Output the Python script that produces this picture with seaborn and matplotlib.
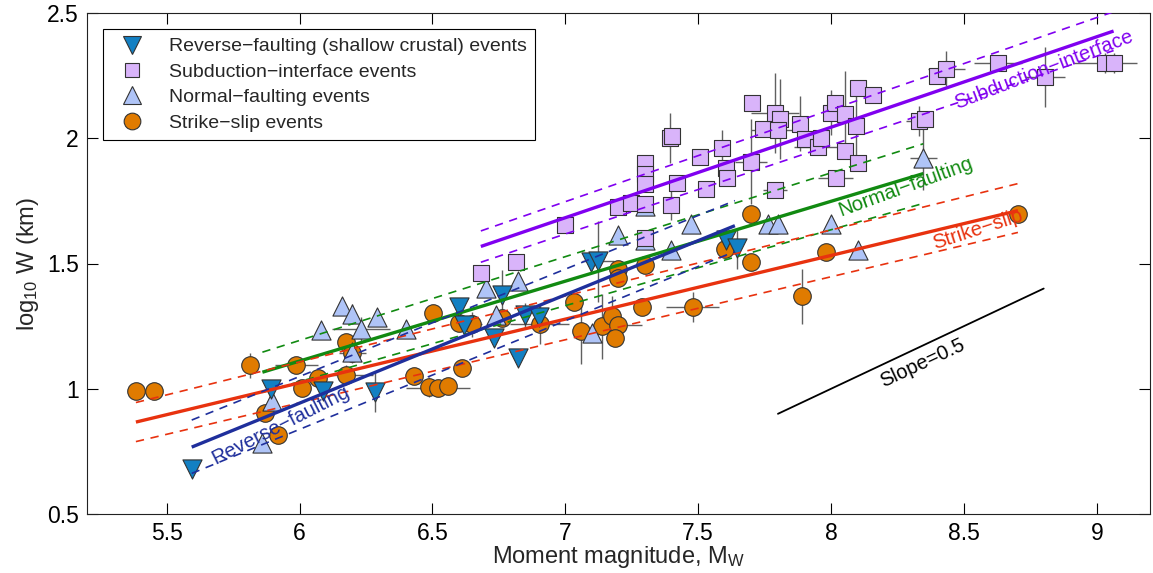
import numpy as np
import pandas as pd
import matplotlib
matplotlib.use("Agg")
import matplotlib.pyplot as plt
import seaborn as sns
from matplotlib.ticker import FuncFormatter
from matplotlib.lines import Line2D

# ---------------- data ----------------
ss_mw = [5.384, 5.451, 5.815, 5.871, 5.920, 5.988, 6.010, 6.070, 6.175, 6.198,
         6.175, 6.430, 6.501, 6.486, 6.520, 6.558, 6.610, 6.599, 6.648, 6.760,
         6.903, 7.034, 7.060, 7.139, 7.177, 7.199, 7.188, 7.199, 7.199, 7.300,
         7.289, 7.480, 7.600, 7.698, 7.698, 7.889, 7.979, 8.703]
ss_w = [0.990, 0.990, 1.094, 0.902, 0.815, 1.094, 1.002, 1.042, 1.185, 1.141,
        1.054, 1.050, 1.301, 1.006, 1.002, 1.010, 1.082, 1.261, 1.257, 1.281,
        1.257, 1.345, 1.229, 1.249, 1.289, 1.253, 1.201, 1.480, 1.444, 1.496,
        1.325, 1.325, 1.556, 1.699, 1.504, 1.369, 1.544, 1.699]
ss_xerr = [0, 0, 0, 0, 0, 0.08, 0, 0, 0, 0.05,
           0.10, 0, 0, 0, 0.12, 0, 0, 0, 0.04, 0,
           0.11, 0, 0, 0, 0, 0.09, 0, 0, 0, 0,
           0, 0.10, 0, 0, 0, 0, 0, 0]
ss_yerr = [0, 0, 0.05, 0, 0, 0, 0, 0.03, 0, 0.04,
           0.04, 0, 0, 0.04, 0, 0, 0, 0, 0.05, 0,
           0.08, 0, 0.13, 0.13, 0.08, 0, 0, 0, 0, 0,
           0, 0.06, 0, 0, 0, 0.11, 0, 0]

rv_mw = [5.594, 5.894, 6.089, 6.284, 6.599, 6.618, 6.730, 6.760, 6.820, 6.850,
         6.899, 7.098, 7.124, 7.604, 7.646]
rv_w = [0.679, 0.998, 0.990, 0.986, 1.325, 1.253, 1.201, 1.373, 1.122, 1.293,
        1.285, 1.504, 1.508, 1.592, 1.560]
rv_xerr = [0, 0, 0, 0, 0, 0, 0, 0, 0, 0, 0, 0, 0.06, 0, 0]
rv_yerr = [0, 0, 0, 0.08, 0, 0, 0, 0.10, 0, 0.05, 0.05, 0, 0.16, 0.05, 0.08]

nf_mw = [5.860, 5.898, 6.081, 6.160, 6.198, 6.231, 6.291, 6.198, 6.400, 6.700,
         6.738, 6.820, 7.102, 7.199, 7.300, 7.300, 7.398, 7.473, 7.762, 7.799,
         7.998, 8.103, 8.347]
nf_w = [0.783, 0.950, 1.233, 1.329, 1.297, 1.237, 1.285, 1.145, 1.237, 1.404,
        1.293, 1.432, 1.221, 1.612, 1.592, 1.731, 1.552, 1.659, 1.659, 1.659,
        1.659, 1.552, 1.922]
nf_xerr = [0, 0, 0, 0, 0, 0.11, 0, 0, 0, 0, 0, 0, 0, 0, 0, 0, 0, 0, 0, 0, 0, 0, 0.05]
nf_yerr = [0, 0, 0, 0, 0.04, 0.05, 0, 0, 0, 0, 0, 0, 0, 0, 0, 0, 0, 0, 0, 0, 0, 0, 0.13]

si_mw = [6.682, 6.813, 7.000, 7.199, 7.248, 7.300, 7.300, 7.300, 7.300, 7.300,
         7.398, 7.394, 7.402, 7.420, 7.507, 7.529, 7.589, 7.604, 7.608, 7.702,
         7.698, 7.743, 7.788, 7.807, 7.799, 7.788, 7.882, 7.901, 7.949, 7.961,
         7.998, 8.013, 8.054, 8.017, 8.054, 8.092, 8.103, 8.103, 8.159, 8.332,
         8.354, 8.399, 8.433, 8.628, 8.805, 9.030, 9.063]
si_w = [1.464, 1.504, 1.655, 1.727, 1.743, 1.739, 1.902, 1.859, 1.819, 1.600,
        1.735, 2.002, 2.010, 1.823, 1.926, 1.799, 1.962, 1.883, 1.843, 2.141,
        1.906, 2.038, 2.102, 2.078, 2.034, 1.795, 2.058, 1.998, 1.966, 2.002,
        2.102, 2.141, 2.098, 1.843, 1.950, 2.050, 2.201, 1.902, 2.173, 2.070,
        2.078, 2.249, 2.277, 2.301, 2.245, 2.301, 2.301]
si_xerr = [0, 0, 0, 0, 0, 0, 0, 0, 0, 0,
           0, 0, 0, 0, 0, 0, 0, 0, 0, 0,
           0.06, 0, 0.09, 0, 0.10, 0.045, 0, 0, 0.09, 0,
           0, 0, 0, 0.065, 0, 0, 0, 0, 0, 0.05,
           0, 0, 0.07, 0.09, 0.075, 0.12, 0]
si_yerr = [0, 0, 0, 0, 0, 0, 0, 0, 0, 0,
           0.06, 0.10, 0, 0, 0, 0, 0.07, 0, 0, 0,
           0.17, 0, 0.16, 0.16, 0, 0, 0.11, 0, 0, 0,
           0.09, 0, 0.17, 0, 0, 0.14, 0, 0, 0, 0.06,
           0, 0, 0.07, 0, 0.12, 0.04, 0.04]

# regression lines (end points)
fit_lines = {
    "Subduction": dict(x=[6.682, 9.063], y=[1.568, 2.428],
                       up=[1.630, 2.505], lo=[1.505, 2.350]),
    "Normal": dict(x=[5.860, 8.347], y=[1.066, 1.859],
                   up=[1.146, 1.978], lo=[0.986, 1.740]),
    "Strike": dict(x=[5.384, 8.703], y=[0.867, 1.711],
                   up=[0.945, 1.819], lo=[0.789, 1.624]),
    "Reverse": dict(x=[5.594, 7.638], y=[0.767, 1.651],
                    up=[0.875, 1.751], lo=[0.662, 1.548]),
}
slope_x = [7.80, 8.80]
slope_y = [0.90, 1.40]

# ---------------- style ----------------
sns.set_theme(style="ticks")
plt.rcParams["font.family"] = ["Liberation Sans", "DejaVu Sans"]
plt.rcParams["mathtext.fontset"] = "custom"
plt.rcParams["mathtext.rm"] = "Liberation Sans"
plt.rcParams["mathtext.it"] = "Liberation Sans"

c_rev = "#1380C3"
c_sub = "#D9B4FA"
c_nor = "#AFC4F7"
c_ss = "#E07B00"
l_sub = "#8000F0"
l_nor = "#118A11"
l_ss = "#E8320F"
l_rev = "#1F2F9C"

fig = plt.figure(figsize=(11.53, 5.73), dpi=100)
ax = fig.add_axes([87 / 1153, 59 / 573, 1063 / 1153, 501 / 573])

groups = [
    ("Strike-slip", ss_mw, ss_w, ss_xerr, ss_yerr, "o", c_ss, 160, 2),
    ("Normal", nf_mw, nf_w, nf_xerr, nf_yerr, "^", c_nor, 190, 3),
    ("Reverse", rv_mw, rv_w, rv_xerr, rv_yerr, "v", c_rev, 190, 4),
    ("Subduction", si_mw, si_w, si_xerr, si_yerr, "s", c_sub, 120, 5),
]

for name, xs, ys, xe, ye, mk, col, s, z in groups:
    xs_a, ys_a = np.array(xs), np.array(ys)
    xe_a, ye_a = np.array(xe), np.array(ye)
    m = (xe_a > 0) | (ye_a > 0)
    ax.errorbar(xs_a[m], ys_a[m], xerr=xe_a[m], yerr=ye_a[m], fmt="none",
                ecolor="#606060", elinewidth=1.0, capsize=0, zorder=1)

for name, xs, ys, xe, ye, mk, col, s, z in groups:
    df = pd.DataFrame({"Mw": xs, "logW": ys})
    sns.scatterplot(data=df, x="Mw", y="logW", marker=mk, color=col, s=s,
                    edgecolor="#333333", linewidth=0.8, ax=ax, zorder=z,
                    legend=False)

line_cols = {"Subduction": l_sub, "Normal": l_nor, "Strike": l_ss, "Reverse": l_rev}
for key, d in fit_lines.items():
    col = line_cols[key]
    ax.plot(d["x"], d["y"], color=col, lw=2.4, zorder=6, solid_capstyle="butt")
    ax.plot(d["x"], d["up"], color=col, lw=1.2, ls=(0, (5, 4)), zorder=6)
    ax.plot(d["x"], d["lo"], color=col, lw=1.2, ls=(0, (5, 4)), zorder=6)

ax.plot(slope_x, slope_y, color="black", lw=1.3, zorder=6)

lab_fs = 14.5
ax.text(8.80, 2.272, "Subduction\u2212interface", color=l_sub, fontsize=lab_fs,
        rotation=21, ha="center", va="center", zorder=7)
ax.text(8.28, 1.805, "Normal\u2212faulting", color=l_nor, fontsize=lab_fs,
        rotation=20, ha="center", va="center", zorder=7)
ax.text(8.553, 1.637, "Strike\u2212slip", color=l_ss, fontsize=lab_fs,
        rotation=18, ha="center", va="center", zorder=7)
ax.text(5.93, 0.855, "Reverse\u2212faulting", color=l_rev, fontsize=lab_fs,
        rotation=27, ha="center", va="center", zorder=7)
ax.text(8.345, 1.104, "Slope=0.5", color="black", fontsize=lab_fs,
        rotation=25, ha="center", va="center", zorder=7)

leg_items = [
    ("Reverse\u2212faulting (shallow crustal) events", "v", c_rev, 13),
    ("Subduction\u2212interface events", "s", c_sub, 10),
    ("Normal\u2212faulting events", "^", c_nor, 13),
    ("Strike\u2212slip events", "o", c_ss, 12),
]
hs = [Line2D([], [], ls="none", marker=m, markerfacecolor=c, markeredgecolor="#333333",
             markeredgewidth=0.8, markersize=ms) for _, m, c, ms in leg_items]
leg = ax.legend(hs, [t for t, *_ in leg_items], loc="upper left",
                bbox_to_anchor=(0.0155, 0.968), fontsize=14.0, frameon=True,
                fancybox=False, edgecolor="black", framealpha=1,
                labelspacing=0.4, handletextpad=0.9, borderpad=0.45,
                handlelength=2.0, borderaxespad=0)
leg.get_frame().set_linewidth(0.8)
leg.set_zorder(10)

ax.set_xlim(5.2, 9.2)
ax.set_ylim(0.5, 2.5)
ax.set_xticks([5.5, 6, 6.5, 7, 7.5, 8, 8.5, 9])
ax.set_yticks([0.5, 1, 1.5, 2, 2.5])
fmt = FuncFormatter(lambda v, p: f"{v:g}")
ax.xaxis.set_major_formatter(fmt)
ax.yaxis.set_major_formatter(fmt)
ax.tick_params(direction="in", length=8, width=0.8, top=True, right=True,
               labelsize=16.5, colors="black", pad=6)
for sp in ax.spines.values():
    sp.set_visible(True)
    sp.set_linewidth(0.8)
    sp.set_color("#222222")
ax.set_xlabel("Moment magnitude, M$_\\mathrm{W}$", fontsize=17, labelpad=-1)
ax.set_ylabel("log$_{10}$ W (km)", fontsize=17, labelpad=4)

fig.savefig("out.png", dpi=100)
